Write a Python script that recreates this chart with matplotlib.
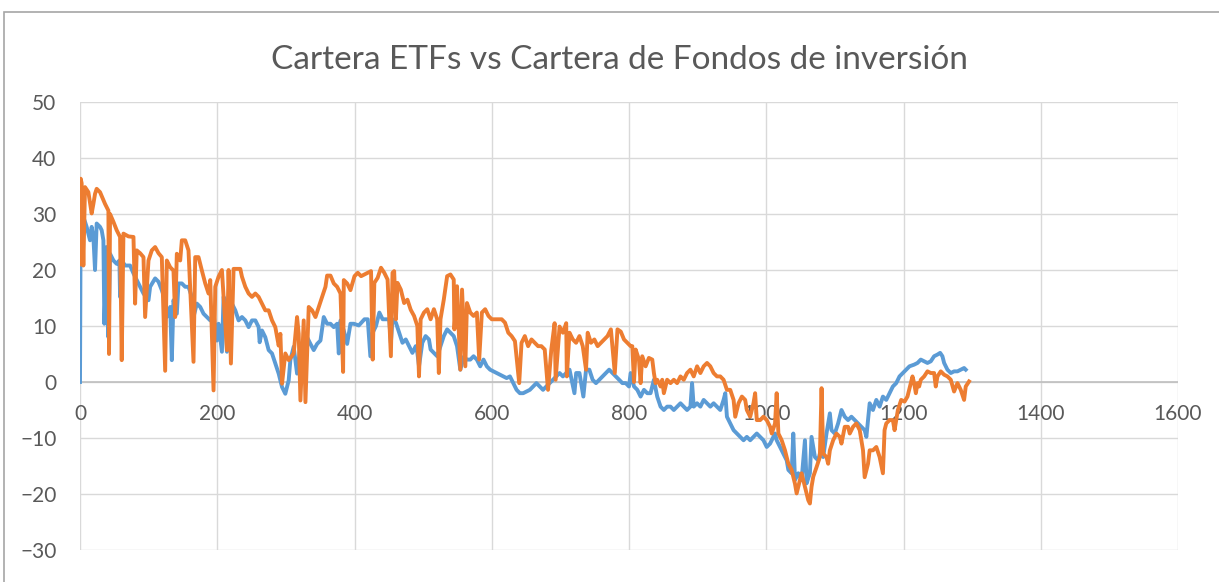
import matplotlib.pyplot as plt
from matplotlib.patches import Rectangle

# Cartera ETFs (azul)
etfs_x = [0, 1, 2.4, 3.5, 4.9, 9.7, 14.6, 17, 19.5, 21.9, 24.3, 29.2, 31.6, 34.1, 35.5, 38.9, 41.4, 43.8, 48.7, 53.5,
          57.4, 58.4, 60.8, 65.7, 73, 77.9, 82.7, 87.6, 92.5, 99.8, 102.2, 109.5, 114.4, 119.2, 124.1, 126.5, 131.4,
          133.8, 136.2, 141.1, 143.5, 148.4, 153.3, 158.1, 163, 165.4, 170.3, 175.2, 180, 184.9, 189.8, 194.6, 199.5,
          201.9, 206.8, 209.2, 211.7, 214.1, 216.5, 221.4, 226.3, 231.1, 236, 240.9, 245.7, 250.6, 255.5, 260.3,
          261.8, 265.2, 270, 274.9, 279.8, 284.6, 289.5, 294.4, 299.2, 304.1, 306.5, 311.4, 316.3, 321.2, 326, 330.9,
          335.8, 340.6, 345.5, 350.4, 355.2, 360.1, 365, 369.8, 374.7, 377.1, 379.6, 384.4, 389.3, 394.1, 399, 406.3,
          414.5, 419.3, 423.1, 426.5, 431.3, 436.2, 441, 445.8, 450.6, 453, 455.4, 460.3, 465.1, 469.9, 474.7, 479.5,
          484.4, 489.2, 491.6, 494, 498.8, 503.6, 508.5, 510.9, 515.7, 520.5, 525.3, 530.1, 535, 539.8, 544.6, 549.4,
          554.2, 559.1, 563.9, 568.7, 573.5, 578.3, 583.2, 588, 592.8, 597.6, 602.4, 607.3, 612.1, 616.9, 621.7, 626.5,
          631.4, 636.2, 641, 645.8, 650.6, 655.5, 660.3, 665.1, 669.9, 674.7, 679.6, 684.4, 689.2, 694, 698.8, 703.7,
          708.5, 713.3, 720.5, 723, 727.8, 733.5, 737.4, 742.2, 747, 751.9, 756.7, 761.5, 766.3, 771.1, 776, 780.8,
          785.6, 790.4, 795.2, 800, 802.4, 807.3, 812.1, 816.9, 821.8, 826.6, 831.4, 836.3, 841.1, 846, 850.8, 855.6,
          860.5, 865.3, 870.1, 875, 879.8, 884.6, 889.5, 891.9, 894.3, 899.2, 904, 908.8, 913.7, 918.5, 923.3, 928.2,
          933, 937.8, 940.3, 942.7, 947.5, 952.4, 957.2, 962, 966.9, 971.7, 976.6, 981.4, 986.2, 991.1, 995.9, 1000.7,
          1005.6, 1010.4, 1012.8, 1015.2, 1020.1, 1024.9, 1029.8, 1032.2, 1037, 1039.4, 1041.9, 1046.7, 1051.5,
          1056.4, 1058.8, 1063.6, 1066, 1070.9, 1075.7, 1078.1, 1083, 1087.8, 1092.7, 1095.1, 1099.9, 1104.7, 1109.6,
          1114.4, 1119.2, 1124.1, 1128.9, 1133.8, 1138.6, 1143.4, 1145.9, 1150.7, 1155.5, 1160.4, 1165.2, 1170,
          1174.9, 1179.7, 1184.5, 1189.4, 1194.2, 1199, 1203.9, 1208.7, 1215.5, 1220.4, 1225.2, 1230.1, 1234.9,
          1239.8, 1244.6, 1249.5, 1253.4, 1256.7, 1259.2, 1264, 1268.9, 1273.7, 1278.6, 1283.4, 1288.3, 1290.7]
etfs_y = [0, 30.7, 30.1, 21.7, 29.5, 27.7, 25.3, 27.7, 25.9, 20, 28.3, 27.7, 27.1, 25.3, 10.4, 24.1, 8, 22.9, 21.7, 21.1,
          21.7, 15.2, 21.7, 20.8, 20.8, 19.4, 18.2, 17, 15.8, 14.6, 17, 18.5, 17.9, 16.4, 14.6, 11.6, 13.4,
          3.9, 14.6, 12.2, 17.6, 17.6, 17, 17, 15.2, 11.6, 14, 13.4, 12.2, 11.6, 11, 12.2, 7.4,
          10.4, 5.4, 15.2, 14.6, 5.4, 14, 14, 12.8, 11, 11.6, 11, 9.8, 11, 11, 9.8,
          7.1, 9.2, 8, 5.7, 5.1, 3.3, 1.5, -0.9, -2.1, 0.3, 3.9, 6.3, 1.5, 6.3, 5.1, 8,
          6.8, 5.7, 6.8, 7.4, 11.6, 10.4, 10.4, 9.8, 10.4, 5.1, 11, 9.2, 6.8, 10.4, 10.4, 10.1,
          11.2, 11.2, 4.6, 8.8, 10, 12.4, 11.2, 11.2, 11.2, 7, 11.2, 10.6, 8.8, 7, 7.6, 6.4,
          5.2, 6.4, 5.2, 2.8, 7, 8.2, 7.6, 5.8, 5.2, 4.6, 6.4, 8.2, 9.4, 8.8, 8.2, 6.4,
          2.2, 4.5, 4, 4, 4.6, 4, 2.8, 4, 2.8, 2.2, 1.9, 1.6, 1.3, 1, 0.7, 1,
          -0.2, -1.4, -2, -2, -1.7, -1.4, -0.8, -0.2, -0.8, -1.4, -0.8, -0.2, 0.4, 1, 1.6, 1,
          1.6, 2.2, -2, 1.6, 1.6, -2.6, 2.2, 2.2, 0.4, -0.2, 0.4, 1, 1.6, 2.2, 1.6, 1,
          0.4, -0.2, -0.2, -0.8, 1.6, -0.8, -1.4, -2.6, -1.4, -2, -2, 0.4, -2.6, -4.4, -5, -4.4,
          -4.4, -5, -4.4, -3.8, -4.4, -5, -4.4, -0.2, -4.4, -3.8, -4.4, -3.2, -3.8, -4.4, -3.8, -4.4,
          -5, -3.2, -2, -6.2, -7.4, -8.6, -9.2, -9.8, -10.4, -9.8, -10.4, -9.8, -9.2, -9.8, -10.4, -11.6,
          -11, -9.8, -9.2, -10.4, -11.6, -12.8, -14, -15.7, -16.3, -9.2, -17.5, -16.3, -17.5,
          -10.4, -18.1, -16.3, -9.8, -13.4, -14, -12.8, -13.4, -9.2, -5.6, -8.6, -9.2, -7.4, -5,
          -6.2, -6.8, -6.2, -6.8, -7.4, -8, -8.6, -9.8, -3.8, -5, -3.2, -4.4, -2.6,
          -3.2, -2, -0.8, -0.2, 1, 1.6, 2.2, 2.8, 3.1, 3.4, 4, 3.7, 3.4,
          3.7, 4.6, 4.9, 5.2, 4.6, 3.4, 2.2, 1.6, 1.9, 1.9, 2.2, 2.5, 2.2]

# Cartera de Fondos de inversión (naranja)
fondos_x = [0, 1, 2.4, 4.9, 7.3, 12.2, 17, 19.5, 21.9, 24.3, 29.2, 36.5, 41.4, 42.3, 43.8, 48.7, 53.5, 58.4, 60.8, 63.3,
            70.6, 77.9, 80.3, 82.7, 87.6, 92.5, 94.9, 99.8, 104.6, 109.5, 114.4, 119.2, 124.1, 126.5, 131.4, 136.2,
            138.7, 141.1, 146, 148.4, 153.3, 158.1, 165.4, 167.9, 172.7, 177.6, 182.5, 187.3, 189.8, 194.6, 197.1,
            201.9, 206.8, 214.1, 216.5, 219.9, 223.8, 233.6, 236, 240.9, 245.7, 250.6, 255.5, 260.3, 265.2, 270,
            274.9, 279.8, 284.6, 289.5, 292, 294.4, 299.2, 304.1, 311.4, 316.3, 318.7, 321.2, 326, 328.5, 333.3,
            338.2, 343.1, 347.9, 352.8, 357.7, 360.1, 365, 369.8, 374.7, 379.6, 383.4, 384.4, 389.3, 394.1, 400,
            404.8, 409.6, 414.5, 419.3, 424.1, 426.5, 428.9, 433.7, 438.6, 443.4, 448.2, 453, 455.4, 457.8, 460.3,
            462.7, 467.5, 472.3, 477.1, 481.9, 486.8, 491.6, 494, 496.4, 501.2, 506, 510.9, 515.7, 520.5, 522.9,
            525.3, 530.1, 535, 539.8, 544.6, 545.6, 549.4, 554.2, 556.7, 561.5, 563.9, 568.7, 573.5, 578.3, 581.7,
            585.6, 590.4, 595.2, 600, 607.3, 614.5, 619.3, 624.1, 628.9, 633.8, 640, 643.4, 648.2, 653, 657.9, 662.7,
            667.5, 672.3, 677.2, 682, 686.8, 691.6, 693.1, 698.8, 703.7, 708.5, 709.4, 713.3, 718.1, 722.9, 727.8,
            732.6, 737.4, 739.8, 744.6, 749.5, 754.3, 759.1, 763.9, 768.7, 773.6, 779.3, 783.2, 788, 792.7, 797.6,
            802.4, 804.8, 807.3, 809.7, 814.5, 816.9, 819.3, 824.2, 829, 833.9, 836.3, 838.7, 841.1, 846, 848.4,
            850.8, 855.6, 860.5, 865.3, 870.1, 875, 879.8, 884.6, 889.5, 894.3, 899.2, 904, 908.8, 913.7, 918.5,
            923.3, 928.2, 933, 937.8, 942.7, 947.5, 952.4, 954.8, 959.6, 964.5, 969.3, 971.7, 976.6, 981.4, 983.8,
            986.2, 991.1, 995.9, 1000.7, 1005.6, 1008, 1012.8, 1015.2, 1017.7, 1022.5, 1027.3, 1032.2, 1037, 1041.9,
            1044.3, 1049.1, 1051.5, 1056.4, 1061.2, 1063.6, 1066, 1068.5, 1073.3, 1078.1, 1080.6, 1083, 1087.8,
            1090.2, 1092.7, 1097.5, 1102.3, 1107.2, 1109.6, 1114.4, 1119.2, 1121.7, 1126.5, 1131.3, 1136.2, 1141,
            1143.4, 1148.3, 1150.7, 1155.5, 1160.4, 1165.2, 1170, 1172.4, 1174.9, 1179.7, 1184.5, 1187, 1191.8,
            1196.6, 1201.5, 1205.8, 1208.2, 1213.1, 1215.5, 1218, 1220.4, 1222.8, 1225.2, 1230.1, 1234.9, 1239.8,
            1244.6, 1247, 1249.5, 1254.3, 1259.2, 1264, 1268.9, 1273.7, 1278.6, 1283.4, 1288.3, 1290.7, 1295.5]
fondos_y = [21, 36.3, 35.5, 20.8, 34.8, 33.9, 30.1, 31.8, 33.6, 34.5, 33.9, 31.8, 30.6, 5, 30, 28.6, 27.1, 25.9, 3.9, 26.5,
            26, 25.9, 14, 23.5, 23, 22.3, 11.6, 21.7, 23.5, 24.1, 23, 22.3, 2, 21.7, 20.5, 19.9,
            11.6, 22.9, 21.7, 25.3, 25.3, 23.5, 3.6, 22.3, 22.3, 19.9, 17.6, 15.8, 18.2, -1.5, 17,
            18.8, 20, 5.7, 20, 3.3, 20.2, 20.2, 18.8, 17, 15.8, 15.2, 15.8, 15.2, 14, 12.8,
            12.8, 11, 9.8, 6.5, 8.6, -0.3, 5.1, 3.9, 5.1, 11.6, 8.6, -3.3, 11, -3.6, 13.4,
            12.8, 11.6, 13.4, 15.2, 17, 19, 19, 17.6, 17, 15.8, 1.8, 18.2, 17.6, 16.4, 18.9,
            19.5, 18.9, 19.2, 19.5, 19.8, 4, 17.7, 18.6, 20.4, 19.5, 18.3, 4.6, 19.5, 19.8, 11.2,
            17.7, 16.5, 14.1, 14.7, 12.9, 11.8, 10, 1, 11.2, 12.4, 13, 11.2, 13, 11.2, 1.6,
            11.2, 14.7, 18.9, 19.2, 18.3, 9.4, 17.1, 2.2, 16.5, 2.8, 14.1, 12.4, 11.8, 12.4, 4,
            12.4, 13, 11.8, 11.2, 11.2, 11.2, 10.6, 8.8, 8.2, 7.3, -0.2, 7, 8.2, 6.4, 7.6, 7,
            6.4, 6.4, 5.8, -1.4, 5.8, 10.5, 0.4, 9.9, 8.8, 10.5, 1, 8.8, 7.6, 7, 8.2,
            6.4, 2.2, 8.8, 7, 7.6, 6.4, 7, 7.6, 8.2, 9.4, 1.6, 9.4, 9, 7.6, 7,
            6.4, 6.4, 0, 5.8, 4, -0.2, 4.6, 2.8, 4.3, 4, 1.6, -0.2, 0.4, -0.8, 0.4,
            -2, 0.4, -0.2, 0.4, -0.2, 1, 0.4, 1.6, 2.2, 1, 2.8, 1.6, 2.8, 3.4, 2.8,
            1.6, 1, 1, 0.4, -1.4, -1.4, -3.2, -6.2, -3.8, -2.6, -3.2, -5, -6.2, -3.8, -2,
            -6.8, -6.8, -6.2, -6.8, -8, -9.2, -7.4, -2, -9.2, -10.4, -12.2, -14.6, -15.7, -18.2,
            -19.9, -17.5, -16.3, -18.7, -21.1, -21.7, -18.7, -16.9, -15.2, -13.4, -1.1, -12.8, -13.4,
            -14.6, -12.2, -10.4, -9.2, -9.8, -11, -8, -8, -9.2, -8, -7.4, -8.6, -12.2,
            -17, -14.6, -12.2, -12.2, -11.6, -13.4, -16.3, -8.6, -7.4, -6.8, -6.8, -8.6, -5,
            -3.2, -3.5, -2.6, -1.4, 1, -0.2, -2, -0.2, -0.8, 0.4, 1, 1.9, 1.6,
            1.6, -0.8, 1, 1.9, 1.3, 1, 0.4, -1.7, -0.2, -1.4, -3.2, -0.8, 0.1]

x_ticks = [0, 200, 400, 600, 800, 1000, 1200, 1400, 1600]
y_ticks = [-30, -20, -10, 0, 10, 20, 30, 40, 50]

plt.rcParams['font.family'] = ['Lato', 'DejaVu Sans']

fig = plt.figure(figsize=(12.19, 5.82), dpi=100)
# borde del grafico (solo se ven arriba e izquierda)
fig.add_artist(Rectangle((3.5 / 1219, -0.1), 1.2, 1.1 - 12 / 582, transform=fig.transFigure,
                         fill=False, edgecolor='#A6A6A6', lw=1.2))

ax = fig.add_axes([80 / 1219, 32 / 582, 1098 / 1219, 448 / 582])
ax.set_xlim(0, 1600)
ax.set_ylim(-30, 50)
ax.set_xticks(x_ticks)
ax.set_yticks(y_ticks)
ax.grid(True, color='#D9D9D9', lw=1.0)
ax.set_axisbelow(True)
for s in ax.spines.values():
    s.set_visible(False)
ax.spines['bottom'].set_position(('data', 0))
ax.axhline(0, color='#BFBFBF', lw=1.2, zorder=1)
ax.tick_params(length=0, labelsize=15, labelcolor='#595959')
ax.tick_params(axis='x', pad=16)
ax.tick_params(axis='y', pad=17)

ax.plot(etfs_x, etfs_y, color='#5B9BD5', lw=2.8, solid_joinstyle='round', zorder=2)
ax.plot(fondos_x, fondos_y, color='#ED7D31', lw=2.8, solid_joinstyle='round', zorder=3)

fig.text(619 / 1219, 1 - 60 / 582, 'Cartera ETFs vs Cartera de Fondos de inversión',
         ha='center', va='center', fontsize=24, color='#595959', fontweight='normal')

fig.savefig('out.png', dpi=100)
